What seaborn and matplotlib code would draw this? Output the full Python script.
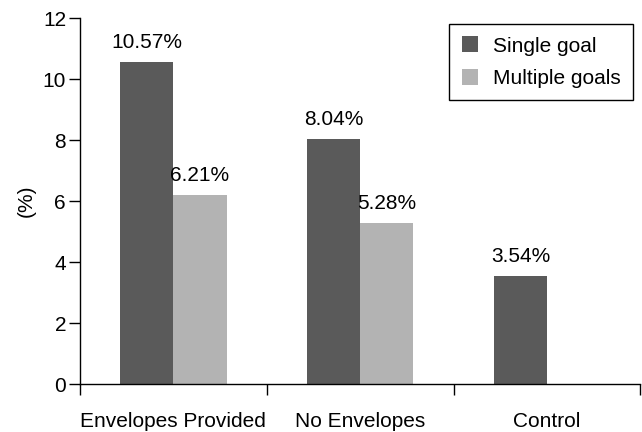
import matplotlib
matplotlib.use("Agg")
import matplotlib.pyplot as plt
import seaborn as sns
import pandas as pd
import numpy as np

# Response rates by condition and goal type
conditions = ["Envelopes Provided", "No Envelopes", "Control"]
single_goal = [10.57, 8.04, 3.54]
multiple_goals = [6.21, 5.28, np.nan]
series_names = ["Single goal", "Multiple goals"]
colors = ["#5a5a5a", "#b3b3b3"]

df = pd.DataFrame({
    "condition": conditions * 2,
    "goal": [series_names[0]] * 3 + [series_names[1]] * 3,
    "rate": single_goal + multiple_goals,
})

sns.set_style("ticks")
plt.rcParams["font.family"] = ["Liberation Sans", "DejaVu Sans"]
plt.rcParams["text.color"] = "black"
plt.rcParams["axes.labelcolor"] = "black"
plt.rcParams["xtick.color"] = "black"
plt.rcParams["ytick.color"] = "black"

FS = 15

fig = plt.figure(figsize=(6.42, 4.32), dpi=100)
ax = fig.add_axes([0.1246, 0.111, 0.873, 0.847])

sns.barplot(data=df, x="condition", y="rate", hue="goal", order=conditions,
            hue_order=series_names, palette=colors, width=0.57, saturation=1,
            linewidth=0, ax=ax)

# Value labels above each bar
for container in ax.containers:
    labels = ["" if np.isnan(v) else f"{v:.2f}%" for v in container.datavalues]
    ax.bar_label(container, labels=labels, padding=7, fontsize=FS, color="black")

ax.set_ylim(0, 12)
ax.set_yticks(range(0, 13, 2))
ax.set_xlim(-0.5, 2.5)

# Group boundaries as ticks; category names as tickless labels
ax.set_xticks([-0.5, 0.5, 1.5, 2.5])
ax.set_xticklabels([])
ax.set_xticks([0, 1, 2], minor=True)
ax.set_xticklabels(conditions, minor=True, fontsize=FS)
ax.tick_params(axis="x", which="major", length=8, width=1, direction="out")
ax.tick_params(axis="x", which="minor", length=0, pad=20)
ax.tick_params(axis="y", length=8, width=1, labelsize=FS, pad=2)

ax.set_xlabel("")
ax.set_ylabel("(%)", fontsize=FS, labelpad=5)

for side in ["top", "right"]:
    ax.spines[side].set_visible(False)
for side in ["left", "bottom"]:
    ax.spines[side].set_color("black")
    ax.spines[side].set_linewidth(1)

leg = ax.legend(loc="upper right", bbox_to_anchor=(0.9875, 0.984), fontsize=FS,
                frameon=True, fancybox=False, edgecolor="black", framealpha=1,
                handlelength=0.8, handleheight=0.8, handletextpad=0.72,
                borderpad=0.6, labelspacing=0.62, borderaxespad=0)
leg.get_frame().set_linewidth(1)

fig.savefig("out.png", dpi=100)
